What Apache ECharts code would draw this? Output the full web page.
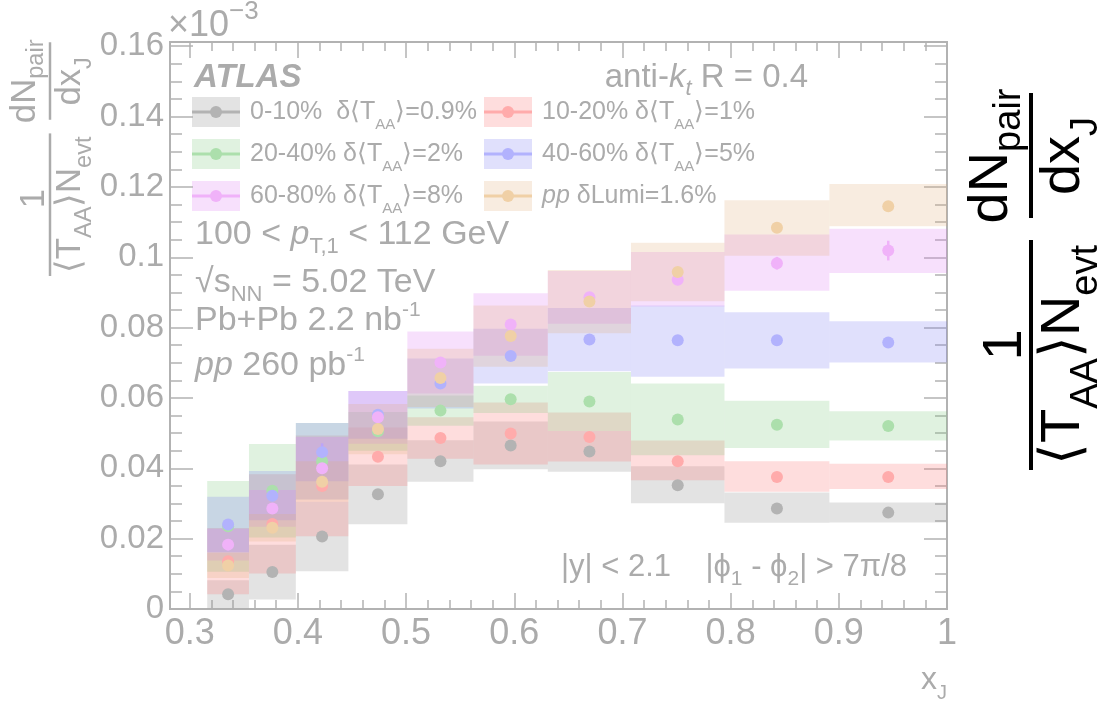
<!DOCTYPE html>
<html><head><meta charset="utf-8">
<script src="https://cdn.jsdelivr.net/npm/echarts@6/dist/echarts.min.js"></script>
<style>html,body{margin:0;padding:0;background:#fff}#c{width:1111px;height:705px}</style>
</head><body><div id="c"></div>
<script>
// ---------------- data ----------------
const binEdges = [0.3162, 0.3548, 0.3981, 0.4467, 0.5012, 0.5623, 0.6310, 0.7079, 0.7943, 0.8913, 1.0];
const xCenters = [0.3355, 0.3764, 0.4224, 0.4740, 0.5318, 0.5967, 0.6695, 0.7511, 0.8428, 0.9457];

const y0010  = [0.0042, 0.0105, 0.0206, 0.0326, 0.0420, 0.0465, 0.0448, 0.0352, 0.0286, 0.0274];
const lo0010 = [0.0002, 0.0027, 0.0107, 0.0241, 0.0362, 0.0397, 0.0390, 0.0301, 0.0245, 0.0246];
const hi0010 = [0.0082, 0.0183, 0.0305, 0.0411, 0.0480, 0.0533, 0.0506, 0.0406, 0.0331, 0.0303];
const st0010 = [0.0008, 0.0009, 0.0010, 0.0010, 0.0010, 0.0010, 0.0010, 0.0010, 0.0010, 0.0010];

const y1020  = [0.0136, 0.0242, 0.0350, 0.0433, 0.0486, 0.0499, 0.0489, 0.0420, 0.0375, 0.0375];
const lo1020 = [0.0042, 0.0101, 0.0207, 0.0350, 0.0427, 0.0411, 0.0419, 0.0366, 0.0333, 0.0341];
const hi1020 = [0.0230, 0.0383, 0.0493, 0.0516, 0.0545, 0.0587, 0.0559, 0.0479, 0.0420, 0.0413];
const st1020 = [0.0010, 0.0010, 0.0010, 0.0010, 0.0010, 0.0010, 0.0010, 0.0010, 0.0010, 0.0012];

const y2040  = [0.0235, 0.0336, 0.0420, 0.0505, 0.0564, 0.0596, 0.0590, 0.0539, 0.0524, 0.0520];
const lo2040 = [0.0106, 0.0203, 0.0311, 0.0450, 0.0521, 0.0557, 0.0506, 0.0437, 0.0458, 0.0479];
const hi2040 = [0.0364, 0.0469, 0.0529, 0.0560, 0.0607, 0.0635, 0.0674, 0.0641, 0.0592, 0.0562];
const st2040 = [0.0012, 0.0012, 0.0012, 0.0012, 0.0012, 0.0012, 0.0012, 0.0012, 0.0012, 0.0012];

const y4060  = [0.0240, 0.0322, 0.0446, 0.0552, 0.0641, 0.0719, 0.0766, 0.0764, 0.0764, 0.0758];
const lo4060 = [0.0161, 0.0252, 0.0363, 0.0484, 0.0570, 0.0641, 0.0676, 0.0660, 0.0684, 0.0701];
const hi4060 = [0.0319, 0.0392, 0.0529, 0.0620, 0.0712, 0.0797, 0.0856, 0.0863, 0.0844, 0.0818];
const st4060 = [0.0015, 0.0015, 0.0025, 0.0015, 0.0012, 0.0012, 0.0012, 0.0012, 0.0012, 0.0012];

const y6080  = [0.0183, 0.0286, 0.0400, 0.0545, 0.0701, 0.0809, 0.0886, 0.0936, 0.0983, 0.1019];
const lo6080 = [0.0138, 0.0234, 0.0311, 0.0470, 0.0613, 0.0720, 0.0811, 0.0860, 0.0905, 0.0955];
const hi6080 = [0.0228, 0.0338, 0.0489, 0.0620, 0.0789, 0.0898, 0.0961, 0.1015, 0.1065, 0.1081];
const st6080 = [0.0015, 0.0015, 0.0015, 0.0015, 0.0015, 0.0015, 0.0015, 0.0015, 0.0018, 0.0028];

const ypp    = [0.0124, 0.0231, 0.0362, 0.0512, 0.0657, 0.0776, 0.0874, 0.0958, 0.1084, 0.1145];
const lopp   = [0.0088, 0.0192, 0.0305, 0.0440, 0.0574, 0.0689, 0.0784, 0.0875, 0.1004, 0.1088];
const hipp   = [0.0160, 0.0270, 0.0420, 0.0583, 0.0740, 0.0863, 0.0964, 0.1041, 0.1162, 0.1208];
const stpp   = [0.0008, 0.0008, 0.0008, 0.0008, 0.0008, 0.0008, 0.0008, 0.0008, 0.0008, 0.0010];

const xMajorTicks = [0.3, 0.4, 0.5, 0.6, 0.7, 0.8, 0.9, 1.0];
const xMinorTicks = [0.32, 0.34, 0.36, 0.38, 0.42, 0.44, 0.46, 0.48, 0.52, 0.54, 0.56, 0.58, 0.62, 0.64, 0.66, 0.68,
                     0.72, 0.74, 0.76, 0.78, 0.82, 0.84, 0.86, 0.88, 0.92, 0.94, 0.96, 0.98];
const yMajorTicks = [0, 0.02, 0.04, 0.06, 0.08, 0.1, 0.12, 0.14, 0.16];
const yMinorTicks = [0.005, 0.01, 0.015, 0.025, 0.03, 0.035, 0.045, 0.05, 0.055, 0.065, 0.07, 0.075, 0.085, 0.09, 0.095,
                     0.105, 0.11, 0.115, 0.125, 0.13, 0.135, 0.145, 0.15, 0.155];

// ---------------- styling ----------------
const FAM = "'Liberation Sans', Arial, Helvetica, sans-serif";
const TXT = '#ababab';
const AX = '#b2b2b2';
const markerColors = ['#b3b3b3', '#ffabab', '#acdfac', '#b2b2fd', '#f0b2f9', '#f0d0a6'];
const boxColors = ['rgba(150,150,150,0.27)', 'rgba(250,120,120,0.25)', 'rgba(120,200,120,0.23)',
                   'rgba(120,120,240,0.23)', 'rgba(220,120,240,0.23)', 'rgba(225,175,120,0.23)'];
const groups = [
  { name: '0-10%',  y: y0010, lo: lo0010, hi: hi0010, st: st0010 },
  { name: '10-20%', y: y1020, lo: lo1020, hi: hi1020, st: st1020 },
  { name: '20-40%', y: y2040, lo: lo2040, hi: hi2040, st: st2040 },
  { name: '40-60%', y: y4060, lo: lo4060, hi: hi4060, st: st4060 },
  { name: '60-80%', y: y6080, lo: lo6080, hi: hi6080, st: st6080 },
  { name: 'pp',     y: ypp,   lo: lopp,   hi: hipp,   st: stpp }
];

// ---------------- text helpers ----------------
const mctx = document.createElement('canvas').getContext('2d');
function pf(p) { return (p.it ? 'italic ' : '') + (p.b ? 'bold ' : '') + p.s + 'px ' + FAM; }
function run(x, base, pieces, align, color) {
  const ws = pieces.map(p => { mctx.font = pf(p); return mctx.measureText(p.t).width + (p.pad || 0); });
  const tot = ws.reduce((a, b) => a + b, 0);
  let cx = align === 'right' ? x - tot : align === 'center' ? x - tot / 2 : x;
  return pieces.map((p, i) => {
    const el = { type: 'text', x: cx, y: base + (p.dy || 0) - 0.31 * p.s, silent: true,
      style: { text: p.t, font: pf(p), fill: color, textAlign: 'left', textVerticalAlign: 'middle',
               align: 'left', verticalAlign: 'middle' } };
    cx += ws[i];
    return el;
  });
}
function titleGroup(px, py, sc, color) {
  const F = 56, f = 38;
  const ch = [];
  ch.push({ type: 'line', shape: { x1: 0, y1: 0, x2: 230, y2: 0 }, style: { stroke: color, lineWidth: 4 } });
  ch.push(...run(125, -8, [{ t: '1', s: F }], 'center', color));
  ch.push(...run(115, 50, [{ t: '\u27E8T', s: F }, { t: 'AA', s: f, dy: 17 }, { t: '\u27E9N', s: F }, { t: 'evt', s: f, dy: 17 }], 'center', color));
  ch.push({ type: 'line', shape: { x1: 252, y1: 0, x2: 377, y2: 0 }, style: { stroke: color, lineWidth: 4 } });
  ch.push(...run(314, -22, [{ t: 'dN', s: F }, { t: 'pair', s: f, dy: 12 }], 'center', color));
  ch.push(...run(314, 50, [{ t: 'dx', s: F }, { t: 'J', s: f, dy: 17 }], 'center', color));
  return { type: 'group', x: px, y: py, rotation: Math.PI / 2, scaleX: sc, scaleY: sc, silent: true, children: ch };
}

// ---------------- graphic (titles, legend, labels) ----------------
const G = [];
G.push(titleGroup(1031, 470, 1, '#000'));
G.push(titleGroup(50, 276, 0.62, TXT));
G.push(...run(168, 37, [{ t: '\u00D710', s: 36 }, { t: '\u22123', s: 26, dy: -17 }], 'left', TXT));
G.push(...run(194, 88, [{ t: 'ATLAS', s: 33, b: true, it: true }], 'left', TXT));
G.push(...run(808, 88, [{ t: 'anti-', s: 33 }, { t: 'k', s: 33, it: true }, { t: 't', s: 22, it: true, dy: 8 }, { t: ' R = 0.4', s: 33 }], 'right', TXT));
G.push(...run(195, 245, [{ t: '100 < ', s: 34 }, { t: 'p', s: 34, it: true }, { t: 'T,1', s: 22, dy: 9 }, { t: ' < 112 GeV', s: 34 }], 'left', TXT));
G.push(...run(195, 293, [{ t: '\u221As', s: 34 }, { t: 'NN', s: 22, dy: 9 }, { t: ' = 5.02 TeV', s: 34 }], 'left', TXT));
G.push(...run(195, 331, [{ t: 'Pb+Pb 2.2 nb', s: 34 }, { t: '-1', s: 21, dy: -14 }], 'left', TXT));
G.push(...run(195, 376, [{ t: 'pp', s: 34, it: true }, { t: ' 260 pb', s: 34 }, { t: '-1', s: 21, dy: -14 }], 'left', TXT));
G.push(...run(907, 577, [{ t: '|y| < 2.1    |\u03D5', s: 31 }, { t: '1', s: 21, dy: 9 }, { t: ' - \u03D5', s: 31 }, { t: '2', s: 21, dy: 9 }, { t: '| > 7\u03C0/8', s: 31 }], 'right', TXT));
G.push(...run(947, 690, [{ t: 'x', s: 32 }, { t: 'J', s: 20, dy: 10 }], 'right', TXT));

const legendRows = [
  { col: 0, row: 0, g: 0, text: [{ t: '0-10%  \u03B4\u27E8T', s: 25 }, { t: 'AA', s: 15, dy: 10 }, { t: '\u27E9=0.9%', s: 25 }] },
  { col: 1, row: 0, g: 1, text: [{ t: '10-20% \u03B4\u27E8T', s: 25 }, { t: 'AA', s: 15, dy: 10 }, { t: '\u27E9=1%', s: 25 }] },
  { col: 0, row: 1, g: 2, text: [{ t: '20-40% \u03B4\u27E8T', s: 25 }, { t: 'AA', s: 15, dy: 10 }, { t: '\u27E9=2%', s: 25 }] },
  { col: 1, row: 1, g: 3, text: [{ t: '40-60% \u03B4\u27E8T', s: 25 }, { t: 'AA', s: 15, dy: 10 }, { t: '\u27E9=5%', s: 25 }] },
  { col: 0, row: 2, g: 4, text: [{ t: '60-80% \u03B4\u27E8T', s: 25 }, { t: 'AA', s: 15, dy: 10 }, { t: '\u27E9=8%', s: 25 }] },
  { col: 1, row: 2, g: 5, text: [{ t: 'pp', s: 25, it: true }, { t: ' \u03B4Lumi=1.6%', s: 25 }] }
];
const legX = [192, 484], legY = [112, 154, 196];
legendRows.forEach(r => {
  const bx = legX[r.col], cy = legY[r.row];
  G.push({ type: 'rect', silent: true, shape: { x: bx, y: cy - 15, width: 48, height: 30 }, style: { fill: boxColors[r.g] } });
  G.push({ type: 'line', silent: true, shape: { x1: bx, y1: cy, x2: bx + 48, y2: cy }, style: { stroke: markerColors[r.g], lineWidth: 3 } });
  G.push({ type: 'circle', silent: true, shape: { cx: bx + 24, cy: cy, r: 6 }, style: { fill: markerColors[r.g] } });
  G.push(...run(bx + 58, cy + 8, r.text, 'left', TXT));
});

// ---------------- series ----------------
const series = [];
groups.forEach((g, i) => {
  const boxData = g.y.map((v, k) => [binEdges[k], binEdges[k + 1], g.lo[k], g.hi[k]]);
  series.push({
    type: 'custom', name: g.name + ' sys', coordinateSystem: 'cartesian2d', data: boxData, silent: true,
    encode: { x: [0, 1], y: [2, 3] },
    renderItem: (params, api) => {
      const a = api.coord([api.value(0), api.value(3)]);
      const b = api.coord([api.value(1), api.value(2)]);
      return { type: 'rect', shape: { x: a[0], y: a[1], width: b[0] - a[0], height: b[1] - a[1] }, style: { fill: boxColors[i] } };
    }
  });
  const errData = g.y.map((v, k) => [xCenters[k], v - g.st[k], v + g.st[k]]);
  series.push({
    type: 'custom', name: g.name + ' stat', coordinateSystem: 'cartesian2d', data: errData, silent: true,
    encode: { x: 0, y: [1, 2] },
    renderItem: (params, api) => {
      const a = api.coord([api.value(0), api.value(1)]);
      const b = api.coord([api.value(0), api.value(2)]);
      return { type: 'line', shape: { x1: a[0], y1: a[1], x2: b[0], y2: b[1] }, style: { stroke: markerColors[i], lineWidth: 2.5 } };
    }
  });
  series.push({
    type: 'scatter', name: g.name, data: g.y.map((v, k) => [xCenters[k], v]), symbol: 'circle', symbolSize: 12,
    itemStyle: { color: markerColors[i], opacity: 1 }, silent: true
  });
});

function xAxisDef(pos, ticks, len, labels) {
  return {
    type: 'value', position: pos, min: 0.2818, max: 1.0, gridIndex: 0,
    axisLine: { show: true, onZero: false, lineStyle: { color: AX, width: 2 } },
    splitLine: { show: false },
    axisTick: { show: true, inside: true, length: len, customValues: ticks, lineStyle: { color: AX, width: 1.5 } },
    axisLabel: labels ? { show: true, customValues: xMajorTicks, margin: 7, color: TXT, fontSize: 36,
      fontFamily: FAM, formatter: v => (Math.abs(v - 1) < 1e-9 ? '1' : String(+v.toFixed(2))) }
      : { show: false }
  };
}
function yAxisDef(pos, ticks, len, labels) {
  return {
    type: 'value', position: pos, min: 0, max: 0.1612, gridIndex: 0,
    axisLine: { show: true, onZero: false, lineStyle: { color: AX, width: 2 } },
    splitLine: { show: false },
    axisTick: { show: true, inside: true, length: len, customValues: ticks, lineStyle: { color: AX, width: 1.5 } },
    axisLabel: labels ? { show: true, customValues: yMajorTicks, margin: 6, color: TXT, fontSize: 33, fontFamily: FAM,
      formatter: v => (v === 0 ? '0' : String(+v.toFixed(3))) } : { show: false }
  };
}

const option = {
  animation: false,
  backgroundColor: '#ffffff',
  grid: { left: 170, right: 164, top: 42, bottom: 96, containLabel: false },
  xAxis: [xAxisDef('bottom', xMajorTicks, 16, true), xAxisDef('bottom', xMinorTicks, 9, false),
          xAxisDef('top', xMajorTicks, 16, false), xAxisDef('top', xMinorTicks, 9, false)],
  yAxis: [yAxisDef('left', yMajorTicks, 23, true), yAxisDef('left', yMinorTicks, 12, false),
          yAxisDef('right', yMajorTicks, 23, false), yAxisDef('right', yMinorTicks, 12, false)],
  series: series,
  graphic: { elements: G }
};
const chart = echarts.init(document.getElementById('c'), null, { renderer: 'canvas' });
chart.setOption(option);
</script>
</body></html>
